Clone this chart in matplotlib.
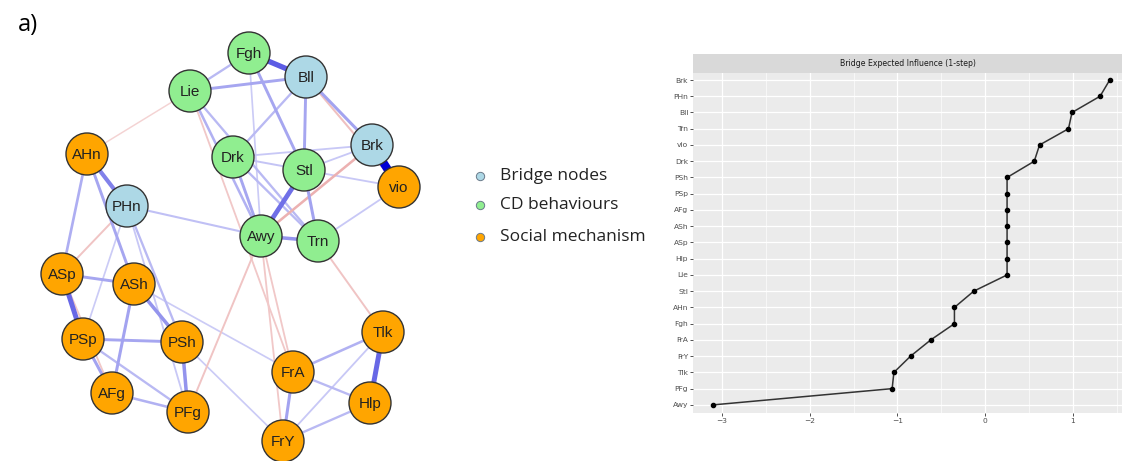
import numpy as np
import matplotlib
matplotlib.use('Agg')
import matplotlib.pyplot as plt
from matplotlib.patches import Circle
from matplotlib.colors import to_rgb

# network layout (node centres) and groups
nodes = ['Fgh', 'Bll', 'Lie', 'Brk', 'vio', 'AHn', 'Drk', 'Stl', 'PHn', 'Awy', 'Trn',
         'ASp', 'ASh', 'PSp', 'PSh', 'AFg', 'PFg', 'FrA', 'Tlk', 'Hlp', 'FrY']
node_x = [249, 306, 190, 372, 399, 87, 233, 304, 127, 261, 318,
          62, 134, 83, 182, 112, 188, 293, 383, 370, 283]
node_y = [53, 77, 91, 145, 187, 154, 157, 170, 206, 236, 241,
          274, 284, 339, 342, 393, 412, 372, 332, 403, 441]
node_group = ['cd', 'bridge', 'cd', 'bridge', 'soc', 'soc', 'cd', 'cd', 'bridge', 'cd', 'cd',
              'soc', 'soc', 'soc', 'soc', 'soc', 'soc', 'soc', 'soc', 'soc', 'soc']

group_colors = {'bridge': '#ADD8E6', 'cd': '#90EE90', 'soc': '#FFA500'}
group_labels = {'bridge': 'Bridge nodes', 'cd': 'CD behaviours', 'soc': 'Social mechanism'}

# partial correlation edges (positive = blue, negative = red)
edge_from = ['Fgh', 'Lie', 'Lie', 'Fgh', 'Fgh', 'Bll', 'Bll', 'Bll', 'Bll', 'Lie', 'Lie',
             'Lie', 'Drk', 'Drk', 'Drk', 'Drk', 'Stl', 'Stl', 'Stl', 'Stl', 'Brk', 'Brk',
             'Awy', 'Trn', 'PHn', 'Lie', 'AHn', 'AHn', 'AHn', 'PHn', 'PHn', 'PHn', 'PHn',
             'ASp', 'ASp', 'ASh', 'ASh', 'ASh', 'PSp', 'PSp', 'PSp', 'ASp', 'AFg', 'PSh',
             'PSh', 'PFg', 'Awy', 'Awy', 'Trn', 'FrA', 'FrA', 'FrA', 'Tlk', 'Tlk', 'Hlp']
edge_to = ['Bll', 'Bll', 'Fgh', 'Stl', 'Awy', 'Drk', 'Stl', 'Brk', 'vio', 'Awy', 'Trn',
           'FrA', 'Awy', 'Trn', 'Stl', 'Brk', 'Awy', 'Trn', 'Brk', 'vio', 'vio', 'Awy',
           'Trn', 'vio', 'Awy', 'AHn', 'PHn', 'ASp', 'ASh', 'ASp', 'PSh', 'PFg', 'PSp',
           'ASh', 'PSp', 'AFg', 'PSh', 'FrA', 'PSh', 'AFg', 'PFg', 'AFg', 'PFg', 'PFg',
           'FrY', 'Awy', 'FrA', 'FrY', 'Tlk', 'FrY', 'Tlk', 'Hlp', 'Hlp', 'FrY', 'FrY']
edge_w = [0.35, 0.15, 0.10, 0.15, 0.05, 0.10, 0.15, 0.16, -0.08, 0.12, 0.10,
          -0.06, 0.15, 0.10, 0.07, 0.06, 0.30, 0.16, 0.06, 0.06, 0.60, -0.12,
          0.20, 0.06, 0.08, -0.03, 0.25, 0.13, 0.15, -0.07, 0.10, 0.06, 0.05,
          0.15, 0.32, 0.16, 0.20, 0.05, 0.15, 0.16, 0.10, -0.06, 0.12, 0.20,
          0.05, -0.07, -0.06, -0.06, -0.07, 0.16, 0.12, 0.10, 0.32, 0.06, 0.10]

# bridge expected influence (1-step)
bei_nodes = ['Brk', 'PHn', 'Bll', 'Trn', 'vio', 'Drk', 'PSh', 'PSp', 'AFg', 'ASh', 'ASp',
             'Hlp', 'Lie', 'Stl', 'AHn', 'Fgh', 'FrA', 'FrY', 'Tlk', 'PFg', 'Awy']
bei_vals = [1.42, 1.31, 0.99, 0.95, 0.62, 0.56, 0.25, 0.25, 0.25, 0.25, 0.25,
            0.25, 0.25, -0.13, -0.35, -0.35, -0.62, -0.85, -1.04, -1.06, -3.10]

W, H = 1122, 461
fig = plt.figure(figsize=(W / 100, H / 100), dpi=100)

# ---- network ----
net_w = 471
ax = fig.add_axes([0, 0, net_w / W, 1])
ax.set_xlim(0, net_w)
ax.set_ylim(H, 0)
ax.axis('off')

pos = {n: (x, y) for n, x, y in zip(nodes, node_x, node_y)}
max_w = max(abs(w) for w in edge_w)
white = np.array([1.0, 1.0, 1.0])
for a, b, w in sorted(zip(edge_from, edge_to, edge_w), key=lambda t: abs(t[2])):
    base = np.array(to_rgb('#0000D5' if w > 0 else '#BF0000'))
    frac = abs(w) / max_w
    fade = 0.13 + 0.87 * frac
    col = white + (base - white) * fade
    (x1, y1), (x2, y2) = pos[a], pos[b]
    ax.plot([x1, x2], [y1, y2], color=col, lw=0.8 + 5.2 * frac,
            solid_capstyle='butt', zorder=1)

for n, x, y, g in zip(nodes, node_x, node_y, node_group):
    ax.add_patch(Circle((x, y), 21, facecolor=group_colors[g], edgecolor='#333333',
                        lw=1.0, zorder=3))
    ax.text(x, y + 1, n, ha='center', va='center', fontsize=11,
            family='Liberation Sans', color='#222222', zorder=4)

fig.text(18 / W, 1 - 25 / H, 'a)', fontsize=17, family='Open Sans',
         ha='left', va='center')

# ---- legend ----
leg_y = [176, 205, 237]
for g, ly in zip(['bridge', 'cd', 'soc'], leg_y):
    fig.lines.append(plt.Line2D([480 / W], [1 - ly / H], marker='o', markersize=6,
                                markerfacecolor=group_colors[g], markeredgecolor='#6a7a8a',
                                markeredgewidth=0.7, transform=fig.transFigure))
    fig.text(500 / W, 1 - ly / H, group_labels[g], fontsize=12.5, family='Open Sans',
             ha='left', va='center', color='#222222')

# ---- bridge expected influence panel ----
px0, px1, py0, py1 = 693, 1122, 72.7, 413
bx = fig.add_axes([px0 / W, 1 - py1 / H, (px1 - px0) / W, (py1 - py0) / H])
bx.set_facecolor('#EBEBEB')
ypos = np.arange(len(bei_nodes))[::-1]
bx.plot(bei_vals, ypos, color='#333333', lw=1.1, zorder=3)
bx.scatter(bei_vals, ypos, s=9, color='black', zorder=4)
bx.set_xlim(-3.33, 1.56)
bx.set_ylim(-0.5, len(bei_nodes) - 0.55)
bx.set_xticks([-3, -2, -1, 0, 1])
bx.set_xticks([-2.5, -1.5, -0.5, 0.5, 1.5], minor=True)
bx.set_yticks(ypos)
bx.set_yticklabels(bei_nodes)
bx.grid(True, which='major', color='white', lw=0.9)
bx.grid(True, which='minor', axis='x', color='white', lw=0.45)
bx.set_axisbelow(True)
for s in bx.spines.values():
    s.set_visible(False)
bx.tick_params(axis='both', which='major', length=2, width=0.6, color='#333333',
               labelsize=5.4, labelcolor='#4D4D4D', pad=1.5)
bx.tick_params(axis='both', which='minor', length=0)

sx = fig.add_axes([px0 / W, 1 - py0 / H, (px1 - px0) / W, 18.7 / H])
sx.set_facecolor('#D9D9D9')
sx.set_xticks([])
sx.set_yticks([])
for s in sx.spines.values():
    s.set_visible(False)
sx.text(0.5, 0.5, 'Bridge Expected Influence (1-step)', transform=sx.transAxes,
        ha='center', va='center', fontsize=5.6, color='#1A1A1A')

fig.savefig('out.png', dpi=100)
